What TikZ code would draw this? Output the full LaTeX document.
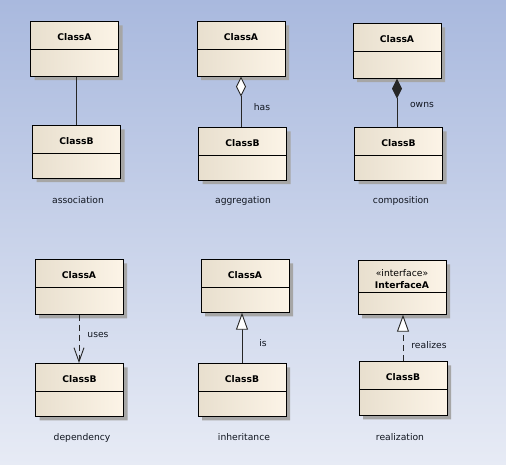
\documentclass[tikz,border=0pt]{standalone}
\usepackage{fontspec}
\setmainfont{DejaVu Sans}
\usetikzlibrary{shapes.multipart,shadows,arrows.meta}

\definecolor{bgtop}{HTML}{A9B9DE}
\definecolor{bgbot}{HTML}{E7EBF5}
\definecolor{boxleft}{HTML}{E8DFCE}
\definecolor{boxright}{HTML}{FCF4E7}
\definecolor{txt}{HTML}{10151F}

\newcommand{\umlfont}{\fontsize{9.2}{12}\selectfont}
\newcommand{\ttlstrut}{\rule[-8pt]{0pt}{27pt}}
\newcommand{\cbody}[1]{\rule{0pt}{#1pt}}

\tikzset{
	classbox/.style={
		rectangle split, rectangle split parts=2,
		draw=black, line width=0.9pt,
		left color=boxleft, right color=boxright,
		drop shadow={shadow xshift=4pt, shadow yshift=-4pt, fill=black!35, opacity=1},
		text width=88pt, align=center, inner xsep=0pt, inner ysep=0pt,
		anchor=north, font=\umlfont\bfseries
	},
	lbl/.style={font=\umlfont\color{txt}, inner sep=0pt, anchor=base},
	link/.style={draw=black!85, line width=0.9pt},
	dashlink/.style={link, dash pattern=on 6pt off 4pt}
}

\begin{document}
\begin{tikzpicture}[x=1pt,y=-1pt]

	\shade[top color=bgtop, bottom color=bgbot] (0,0) rectangle (506,465);
	\useasboundingbox (0,0) rectangle (506,465);

	% top row
	\node[classbox] (asA) at (74.5,21) {\ttlstrut ClassA \nodepart{two}\cbody{26}};
	\node[classbox] (asB) at (76.5,125) {\ttlstrut ClassB \nodepart{two}\cbody{24}};
	\node[classbox] (agA) at (241,21) {\ttlstrut ClassA \nodepart{two}\cbody{26}};
	\node[classbox] (agB) at (242.5,127) {\ttlstrut ClassB \nodepart{two}\cbody{24}};
	\node[classbox] (coA) at (397,23) {\ttlstrut ClassA \nodepart{two}\cbody{26}};
	\node[classbox] (coB) at (398.5,127) {\ttlstrut ClassB \nodepart{two}\cbody{24}};

	\draw[link] (asB.north |- asA.south) -- (asB.north);
	\draw[link,{Diamond[fill=white,length=20pt,width=10pt]}-] (agA.south) -- (agA.south |- agB.north);
	\draw[link,{Diamond[length=20pt,width=10pt]}-] (coA.south) -- (coA.south |- coB.north);

	\node[lbl] (hasL) at (262,111) {has};
	\node[lbl] (ownsL) at (422,108) {owns};

	\node[lbl] (asL) at (78,204) {association};
	\node[lbl] (agL) at (243,204) {aggregation};
	\node[lbl] (coL) at (401,204) {composition};

	% bottom row
	\node[classbox] (deA) at (79,259) {\ttlstrut ClassA \nodepart{two}\cbody{26}};
	\node[classbox] (deB) at (79.5,363) {\ttlstrut ClassB \nodepart{two}\cbody{24}};
	\node[classbox] (inA) at (245,259) {\ttlstrut ClassA \nodepart{two}\cbody{24}};
	\node[classbox] (inB) at (242,363) {\ttlstrut ClassB \nodepart{two}\cbody{24}};
	\node[classbox] (reA) at (402,260) {\rule{0pt}{16pt}{\mdseries «interface»}\\\rule[-3pt]{0pt}{3pt}InterfaceA \nodepart{two}\cbody{21}};
	\node[classbox] (reB) at (403,361) {\ttlstrut ClassB \nodepart{two}\cbody{25}};

	\draw[dashlink,-{Straight Barb[length=14pt,width=10pt]}] (deA.south) -- (deA.south |- deB.north);
	\draw[link,-{Triangle[fill=white,length=17pt,width=12pt]}] (inB.north) -- (inB.north |- inA.south);
	\draw[dashlink,-{Triangle[fill=white,length=17pt,width=12pt]}] (reB.north) -- (reB.north |- reA.south);

	\node[lbl] (usesL) at (98,337) {uses};
	\node[lbl] (isL) at (263,346) {is};
	\node[lbl] (realL) at (429,348) {realizes};

	\node[lbl] (deL) at (82,440) {dependency};
	\node[lbl] (inL) at (244,440) {inheritance};
	\node[lbl] (reL) at (400,440) {realization};

\end{tikzpicture}
\end{document}
